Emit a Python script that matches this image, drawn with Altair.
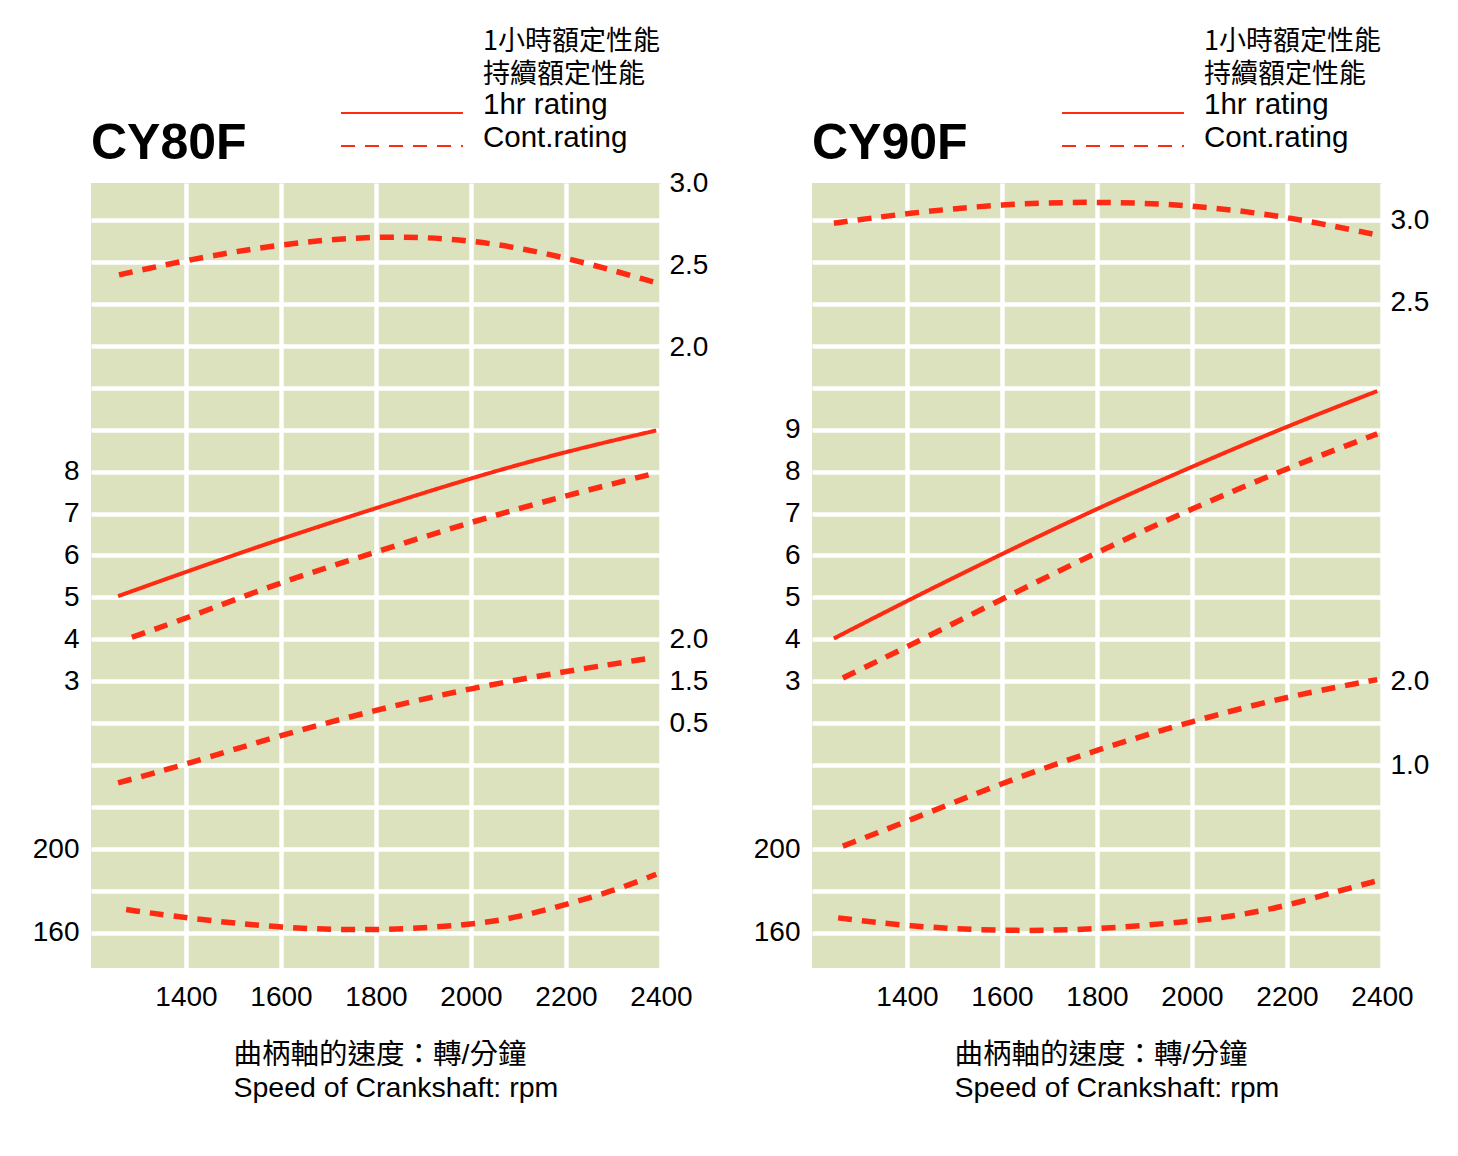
import altair as alt
import pandas as pd

RED = "#ff2a12"
BG = "#dce1be"
FONT = "Liberation Sans"
CJK = "Noto Sans CJK TC"
MIXED = "Liberation Sans, Noto Sans CJK TC"

ratings = ["1hr rating", "Cont.rating"]
legend_title = ["1小時額定性能", "持續額定性能"]
x_title = ["曲柄軸的速度：轉/分鐘", "Speed of Crankshaft: rpm"]
rpm_ticks = [1400, 1600, 1800, 2000, 2200, 2400]
sfc_grid = list(range(160, 520, 20))
sfc_labels = [160, 200]

# ---- CY80F ----
rpm_80_1hr = [1257, 1400, 1600, 1800, 2000, 2200, 2390]
power_80_1hr = [5.03, 5.61, 6.40, 7.13, 7.85, 8.48, 8.98]
rpm_80_cont = [1286, 1400, 1600, 1800, 2000, 2200, 2380]
power_80_cont = [4.05, 4.5, 5.37, 6.08, 6.8, 7.43, 7.94]
rpm_80_torque = [1259, 1400, 1600, 1800, 2000, 2200, 2392]
torque_80 = [2.44, 2.53, 2.63, 2.68, 2.66, 2.55, 2.39]
rpm_80_fuel = [1257, 1400, 1600, 1800, 2000, 2200, 2383]
fuel_80 = [0.29, 0.51, 0.86, 1.16, 1.42, 1.62, 1.78]
rpm_80_sfc = [1274, 1400, 1600, 1800, 2000, 2100, 2200, 2300, 2390]
sfc_80 = [171.2, 167.1, 162.3, 161.0, 163.8, 167.5, 173.6, 180.0, 188.0]
power_ticks_80 = [3, 4, 5, 6, 7, 8]
torque_ticks_80 = [2.0, 2.5, 3.0]
fuel_ticks_80 = [1.0, 1.5, 2.0]
fuel_text_80 = ["0.5", "1.5", "2.0"]

# ---- CY90F ----
rpm_90_1hr = [1246, 1400, 1600, 1800, 2000, 2200, 2390]
power_90_1hr = [4.02, 4.92, 6.04, 7.12, 8.12, 9.08, 9.92]
rpm_90_cont = [1265, 1400, 1600, 1800, 2000, 2200, 2390]
power_90_cont = [3.08, 3.82, 4.96, 6.08, 7.12, 8.08, 8.9]
rpm_90_torque = [1246, 1400, 1600, 1800, 2000, 2200, 2390]
torque_90 = [2.985, 3.046, 3.102, 3.118, 3.097, 3.026, 2.913]
rpm_90_fuel = [1265, 1400, 1600, 1800, 2000, 2200, 2390]
fuel_90 = [0.035, 0.33, 0.79, 1.185, 1.525, 1.82, 2.02]
rpm_90_sfc = [1255, 1400, 1600, 1800, 2000, 2100, 2200, 2300, 2392]
sfc_90 = [167.2, 163.2, 160.8, 161.6, 165.6, 168.4, 173.0, 179.5, 185.0]
power_ticks_90 = [3, 4, 5, 6, 7, 8, 9]
torque_ticks_90 = [2.5, 3.0]
fuel_ticks_90 = [1.0, 2.0]
fuel_text_90 = ["1.0", "2.0"]

# the printed grid: white lines on integer rows, plot spans these rows
ROW_LO, ROW_HI = -0.835, 17.88


def dom(ref_row, ref_val, per_row):
    return [ref_val + (ROW_LO - ref_row) * per_row, ref_val + (ROW_HI - ref_row) * per_row]


def frame(parts):
    rows = []
    for qty, rating, xs, ys in parts:
        for r, v in zip(xs, ys):
            rows.append({"qty": qty, "rating": rating, "rpm": r, "value": v})
    return pd.DataFrame(rows)


def label_expr(values, texts):
    expr = "''"
    for v, t in zip(values, texts):
        expr = f"datum.value == {v} ? '{t}' : ({expr})"
    return expr


def panel(name, df, power_ticks, torque_dom, torque_ticks, fuel_dom, fuel_ticks, fuel_text):
    x = alt.X("rpm:Q", scale=alt.Scale(domain=[1200, 2400], nice=False, zero=False),
              axis=alt.Axis(values=rpm_ticks, format="d", grid=True, gridColor="white", gridWidth=4.5,
                            labelPadding=15, labelFlush=False, labelOverlap=False,
                            title=x_title, titleX=142, titleY=95, titleAlign="left",
                            titleAnchor="start", titleBaseline="alphabetic",
                            titleFont=MIXED, titleFontSize=28.5, titleFontWeight="normal",
                            titleLineHeight=33, titleColor="black"))
    dash = alt.StrokeDash("rating:N",
                          scale=alt.Scale(domain=ratings, range=[[1, 0], [14, 10]]),
                          legend=alt.Legend(title=None, orient="none",
                                            legendX=360, legendY=-94, direction="vertical",
                                            symbolType="M-8.4,0.53H-0.27", symbolSize=900,
                                            symbolStrokeWidth=2, symbolStrokeColor=RED,
                                            labelOffset=0, labelFont=FONT, labelFontSize=29.5,
                                            labelColor="black", labelLimit=300, rowPadding=2))
    width = alt.StrokeWidth("rating:N", scale=alt.Scale(domain=ratings, range=[4, 5.5]), legend=None)

    def layer(qty, domain, axis):
        return alt.Chart(df).transform_filter(alt.datum.qty == qty).mark_line(
            color=RED, interpolate="basis"
        ).encode(
            x=x,
            y=alt.Y("value:Q", scale=alt.Scale(domain=domain, nice=False, zero=False), axis=axis),
            strokeDash=dash,
            strokeWidth=width,
        )

    sfc = layer("sfc", dom(0, 160, 20),
                alt.Axis(orient="left", values=sfc_grid, grid=True, gridColor="white", gridWidth=4.5,
                         labelExpr=label_expr(sfc_labels, [str(v) for v in sfc_labels]),
                         labelPadding=12, title=None))
    power = layer("power", dom(0, -3, 1),
                  alt.Axis(orient="left", values=power_ticks, labelPadding=12, title=None))
    torque = layer("torque", torque_dom,
                   alt.Axis(orient="right", values=torque_ticks, format=".1f", labelPadding=8, title=None))
    fuel = layer("fuel", fuel_dom,
                 alt.Axis(orient="right", values=fuel_ticks, labelExpr=label_expr(fuel_ticks, fuel_text),
                          labelPadding=8, title=None))
    heading = alt.Chart(pd.DataFrame({"n": [0]})).mark_text(
        text=legend_title, font=CJK, fontSize=27, lineHeight=33, align="left",
        baseline="alphabetic", color="black"
    ).encode(x=alt.value(392), y=alt.value(-133))

    return alt.layer(sfc, power, torque, fuel, heading).resolve_scale(y="independent").properties(
        width=570, height=785,
        title=alt.TitleParams(name, anchor="start", frame="group", fontSize=50, font=FONT,
                              fontWeight="bold", color="black", offset=-181, baseline="alphabetic"),
    )


df80 = frame([
    ("power", "1hr rating", rpm_80_1hr, power_80_1hr),
    ("power", "Cont.rating", rpm_80_cont, power_80_cont),
    ("torque", "Cont.rating", rpm_80_torque, torque_80),
    ("fuel", "Cont.rating", rpm_80_fuel, fuel_80),
    ("sfc", "Cont.rating", rpm_80_sfc, sfc_80),
])
df90 = frame([
    ("power", "1hr rating", rpm_90_1hr, power_90_1hr),
    ("power", "Cont.rating", rpm_90_cont, power_90_cont),
    ("torque", "Cont.rating", rpm_90_torque, torque_90),
    ("fuel", "Cont.rating", rpm_90_fuel, fuel_90),
    ("sfc", "Cont.rating", rpm_90_sfc, sfc_90),
])

left = panel("CY80F", df80, power_ticks_80, [-1.786, 3.0001], torque_ticks_80,
             dom(7, 2.0, 0.5), fuel_ticks_80, fuel_text_80)
right = panel("CY90F", df90, power_ticks_90, [-1.556, 3.23], torque_ticks_90,
              dom(6, 2.0, 0.5), fuel_ticks_90, fuel_text_90)

chart = alt.hconcat(left, right, spacing=45).resolve_scale(strokeDash="independent").properties(
    padding={"left": 24, "top": 20, "right": 5, "bottom": 5}
).configure_view(
    fill=BG, stroke=None
).configure_axis(
    labelFont=FONT, labelFontSize=28, labelColor="black", ticks=False, domain=False,
    grid=False, labelOverlap=False, labelBound=False
)

chart.save("out.html", embed_options={"renderer": "svg", "actions": False})
